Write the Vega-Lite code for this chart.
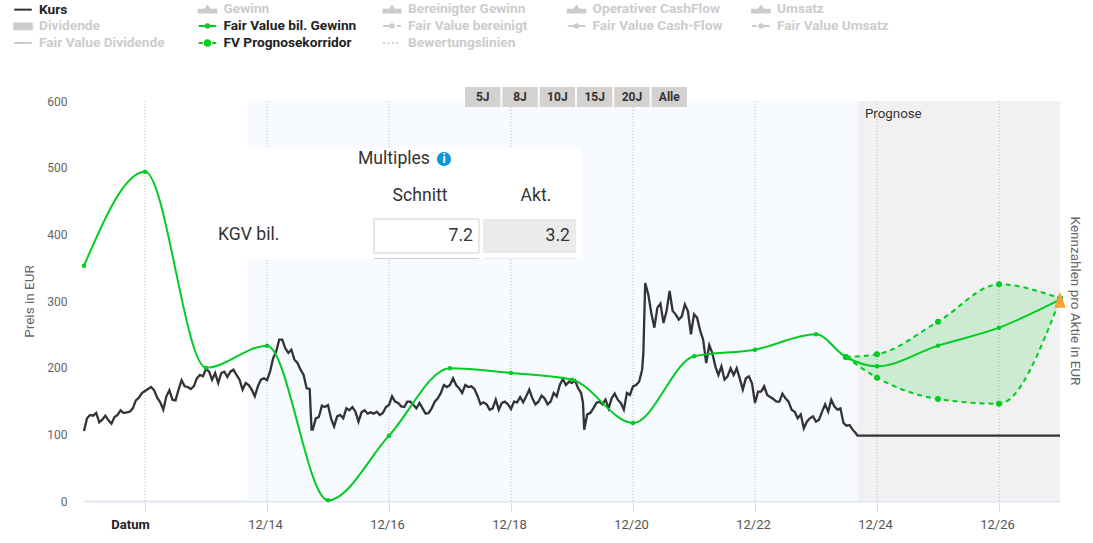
{"$schema":"https://vega.github.io/schema/vega-lite/v6.json","width":976,"height":400,"autosize":{"type":"none"},"padding":{"left":84,"top":101,"right":33,"bottom":42},"background":"white","config":{"view":{"stroke":null},"font":"Roboto","text":{"font":"Roboto"}},"datasets":{"kurs":[{"t":2011,"v":105},{"t":2011.05,"v":124},{"t":2011.1,"v":129},{"t":2011.15,"v":128},{"t":2011.2,"v":132},{"t":2011.25,"v":118},{"t":2011.3,"v":122},{"t":2011.35,"v":128},{"t":2011.4,"v":121},{"t":2011.45,"v":116},{"t":2011.5,"v":126},{"t":2011.55,"v":129},{"t":2011.6,"v":136},{"t":2011.65,"v":132},{"t":2011.7,"v":133},{"t":2011.75,"v":134},{"t":2011.8,"v":139},{"t":2011.85,"v":151},{"t":2011.9,"v":155},{"t":2011.95,"v":162},{"t":2012,"v":165},{"t":2012.05,"v":168},{"t":2012.1,"v":171},{"t":2012.15,"v":166},{"t":2012.2,"v":155},{"t":2012.25,"v":148},{"t":2012.3,"v":137},{"t":2012.35,"v":157},{"t":2012.4,"v":166},{"t":2012.45,"v":152},{"t":2012.5,"v":151},{"t":2012.55,"v":167},{"t":2012.6,"v":181},{"t":2012.65,"v":172},{"t":2012.7,"v":171},{"t":2012.75,"v":168},{"t":2012.8,"v":172},{"t":2012.85,"v":184},{"t":2012.9,"v":189},{"t":2012.95,"v":187},{"t":2013,"v":198},{"t":2013.05,"v":194},{"t":2013.1,"v":182},{"t":2013.15,"v":192},{"t":2013.2,"v":177},{"t":2013.25,"v":192},{"t":2013.3,"v":194},{"t":2013.35,"v":186},{"t":2013.4,"v":194},{"t":2013.45,"v":197},{"t":2013.5,"v":189},{"t":2013.55,"v":182},{"t":2013.6,"v":167},{"t":2013.65,"v":177},{"t":2013.7,"v":174},{"t":2013.75,"v":167},{"t":2013.8,"v":157},{"t":2013.85,"v":172},{"t":2013.9,"v":182},{"t":2013.95,"v":184},{"t":2014,"v":181},{"t":2014.05,"v":194},{"t":2014.1,"v":214},{"t":2014.15,"v":224},{"t":2014.2,"v":242},{"t":2014.25,"v":242},{"t":2014.3,"v":229},{"t":2014.35,"v":222},{"t":2014.4,"v":227},{"t":2014.45,"v":212},{"t":2014.5,"v":207},{"t":2014.55,"v":197},{"t":2014.6,"v":189},{"t":2014.65,"v":169},{"t":2014.7,"v":168},{"t":2014.73,"v":107},{"t":2014.75,"v":107},{"t":2014.8,"v":124},{"t":2014.85,"v":126},{"t":2014.9,"v":143},{"t":2014.95,"v":141},{"t":2015,"v":144},{"t":2015.05,"v":124},{"t":2015.1,"v":112},{"t":2015.15,"v":127},{"t":2015.2,"v":129},{"t":2015.25,"v":124},{"t":2015.3,"v":139},{"t":2015.35,"v":136},{"t":2015.4,"v":141},{"t":2015.45,"v":134},{"t":2015.5,"v":119},{"t":2015.55,"v":133},{"t":2015.6,"v":136},{"t":2015.65,"v":131},{"t":2015.7,"v":133},{"t":2015.75,"v":131},{"t":2015.8,"v":134},{"t":2015.85,"v":129},{"t":2015.9,"v":132},{"t":2015.95,"v":141},{"t":2016,"v":144},{"t":2016.05,"v":157},{"t":2016.1,"v":149},{"t":2016.15,"v":147},{"t":2016.2,"v":142},{"t":2016.25,"v":141},{"t":2016.3,"v":149},{"t":2016.35,"v":149},{"t":2016.4,"v":144},{"t":2016.45,"v":139},{"t":2016.5,"v":147},{"t":2016.55,"v":139},{"t":2016.6,"v":131},{"t":2016.65,"v":132},{"t":2016.7,"v":139},{"t":2016.75,"v":149},{"t":2016.8,"v":154},{"t":2016.85,"v":162},{"t":2016.9,"v":174},{"t":2016.95,"v":171},{"t":2017,"v":174},{"t":2017.05,"v":184},{"t":2017.1,"v":174},{"t":2017.15,"v":169},{"t":2017.2,"v":162},{"t":2017.25,"v":174},{"t":2017.3,"v":171},{"t":2017.35,"v":172},{"t":2017.4,"v":168},{"t":2017.45,"v":158},{"t":2017.5,"v":145},{"t":2017.55,"v":148},{"t":2017.6,"v":145},{"t":2017.65,"v":137},{"t":2017.7,"v":139},{"t":2017.75,"v":152},{"t":2017.8,"v":137},{"t":2017.85,"v":147},{"t":2017.9,"v":149},{"t":2017.95,"v":145},{"t":2018,"v":138},{"t":2018.05,"v":149},{"t":2018.1,"v":148},{"t":2018.15,"v":156},{"t":2018.2,"v":148},{"t":2018.25,"v":157},{"t":2018.3,"v":167},{"t":2018.35,"v":154},{"t":2018.4,"v":145},{"t":2018.45,"v":149},{"t":2018.5,"v":158},{"t":2018.55,"v":154},{"t":2018.6,"v":145},{"t":2018.65,"v":149},{"t":2018.7,"v":162},{"t":2018.75,"v":157},{"t":2018.8,"v":174},{"t":2018.85,"v":183},{"t":2018.9,"v":174},{"t":2018.95,"v":179},{"t":2019,"v":177},{"t":2019.05,"v":181},{"t":2019.1,"v":169},{"t":2019.15,"v":162},{"t":2019.18,"v":147},{"t":2019.2,"v":107},{"t":2019.25,"v":130},{"t":2019.3,"v":132},{"t":2019.35,"v":139},{"t":2019.4,"v":147},{"t":2019.45,"v":149},{"t":2019.5,"v":145},{"t":2019.55,"v":152},{"t":2019.6,"v":139},{"t":2019.65,"v":154},{"t":2019.7,"v":161},{"t":2019.75,"v":152},{"t":2019.8,"v":147},{"t":2019.85,"v":137},{"t":2019.9,"v":162},{"t":2019.95,"v":159},{"t":2020,"v":172},{"t":2020.05,"v":174},{"t":2020.1,"v":179},{"t":2020.15,"v":197},{"t":2020.17,"v":222},{"t":2020.2,"v":327},{"t":2020.25,"v":310},{"t":2020.3,"v":282},{"t":2020.35,"v":260},{"t":2020.4,"v":290},{"t":2020.45,"v":296},{"t":2020.5,"v":267},{"t":2020.55,"v":285},{"t":2020.6,"v":315},{"t":2020.65,"v":285},{"t":2020.7,"v":280},{"t":2020.75,"v":272},{"t":2020.8,"v":277},{"t":2020.85,"v":295},{"t":2020.9,"v":285},{"t":2020.95,"v":250},{"t":2021,"v":280},{"t":2021.05,"v":275},{"t":2021.1,"v":256},{"t":2021.15,"v":242},{"t":2021.2,"v":207},{"t":2021.25,"v":234},{"t":2021.3,"v":222},{"t":2021.35,"v":202},{"t":2021.4,"v":189},{"t":2021.45,"v":202},{"t":2021.5,"v":182},{"t":2021.55,"v":187},{"t":2021.6,"v":199},{"t":2021.65,"v":189},{"t":2021.7,"v":199},{"t":2021.75,"v":184},{"t":2021.8,"v":167},{"t":2021.85,"v":184},{"t":2021.9,"v":187},{"t":2021.95,"v":177},{"t":2022,"v":147},{"t":2022.05,"v":164},{"t":2022.1,"v":164},{"t":2022.15,"v":172},{"t":2022.2,"v":159},{"t":2022.25,"v":156},{"t":2022.3,"v":153},{"t":2022.35,"v":149},{"t":2022.4,"v":149},{"t":2022.45,"v":161},{"t":2022.5,"v":154},{"t":2022.55,"v":149},{"t":2022.6,"v":137},{"t":2022.65,"v":134},{"t":2022.7,"v":124},{"t":2022.75,"v":130},{"t":2022.8,"v":109},{"t":2022.85,"v":119},{"t":2022.9,"v":124},{"t":2022.95,"v":127},{"t":2023,"v":119},{"t":2023.05,"v":122},{"t":2023.1,"v":134},{"t":2023.15,"v":145},{"t":2023.2,"v":134},{"t":2023.25,"v":152},{"t":2023.3,"v":142},{"t":2023.35,"v":137},{"t":2023.4,"v":139},{"t":2023.45,"v":117},{"t":2023.5,"v":113},{"t":2023.55,"v":114},{"t":2023.6,"v":107},{"t":2023.65,"v":102},{"t":2023.68,"v":98},{"t":2027,"v":98}],"fv":[{"t":2011,"v":353},{"t":2012,"v":494},{"t":2013,"v":200},{"t":2014,"v":233},{"t":2015,"v":1},{"t":2016,"v":98},{"t":2017,"v":199},{"t":2018,"v":192},{"t":2019,"v":182},{"t":2020,"v":117},{"t":2021,"v":217},{"t":2022,"v":227},{"t":2023,"v":250},{"t":2023.49,"v":216},{"t":2024,"v":202},{"t":2025,"v":233},{"t":2026,"v":260},{"t":2027,"v":302}],"corridor":[{"t":2023.49,"low":216,"high":216},{"t":2024,"low":185,"high":220},{"t":2025,"low":153,"high":269},{"t":2026,"low":146,"high":325},{"t":2027,"low":302,"high":304}]},"data":{"name":"kurs"},"resolve":{"scale":{"x":"independent"}},"layer":[{"encoding":{"x":{"type":"quantitative","scale":{"domain":[2011,2027],"nice":false,"zero":false},"axis":{"title":null,"values":[2012,2014,2016,2018,2020,2022,2024,2026],"labelExpr":"datum.value==2012?'Datum':'12/'+format(datum.value%100,'02d')","labelFontWeight":{"condition":{"test":"datum.value==2012","value":"bold"},"value":"normal"},"labelColor":{"condition":{"test":"datum.value==2012","value":"#222222"},"value":"#555555"},"labelOffset":{"condition":{"test":"datum.value==2012","value":-15},"value":-2},"labelFontSize":13,"labelPadding":7,"labelFlush":false,"grid":false,"tickColor":"#ccd6eb","tickSize":10,"domainColor":"#dfe7f3","domainWidth":2,"zindex":0}},"y":{"type":"quantitative","scale":{"domain":[0,600],"nice":false,"zero":false},"axis":{"title":"Preis in EUR","titleFontSize":13.5,"titleFontWeight":"normal","titleColor":"#666666","titlePadding":10,"values":[0,100,200,300,400,500,600],"labelColor":"#666666","labelFontSize":12,"labelPadding":17,"domain":false,"ticks":false,"grid":false}}},"layer":[{"data":{"values":[{"from":2013.68,"to":2023.68,"zone":"hist"}]},"mark":{"type":"rect","color":"#f7faff"},"encoding":{"x":{"field":"from","type":"quantitative"},"x2":{"field":"to"},"y":{"datum":0,"type":"quantitative"},"y2":{"datum":600}}},{"data":{"values":[{"from":2023.68,"to":2027,"zone":"prog"}]},"mark":{"type":"rect","color":"#f1f1f1"},"encoding":{"x":{"field":"from","type":"quantitative"},"x2":{"field":"to"},"y":{"datum":0,"type":"quantitative"},"y2":{"datum":600}}},{"data":{"values":[{"t":2012},{"t":2014},{"t":2016},{"t":2018},{"t":2020},{"t":2022},{"t":2024},{"t":2026}]},"mark":{"type":"rule","color":"#b8b8b8","strokeDash":[1,2],"strokeWidth":1},"encoding":{"x":{"field":"t","type":"quantitative"},"y":{"datum":0,"type":"quantitative"},"y2":{"datum":600}}},{"data":{"name":"corridor"},"mark":{"type":"area","interpolate":"monotone","color":"#00cc22","opacity":0.15},"encoding":{"x":{"field":"t","type":"quantitative"},"y":{"field":"low","type":"quantitative"},"y2":{"field":"high"}}},{"mark":{"type":"line","strokeWidth":2.3},"encoding":{"x":{"field":"t","type":"quantitative"},"y":{"field":"v","type":"quantitative"},"color":{"datum":"Kurs","scale":{"domain":["Kurs","Dividende","Fair Value Dividende","Gewinn","Fair Value bil. Gewinn","FV Prognosekorridor","Bereinigter Gewinn","Fair Value bereinigt","Bewertungslinien","Operativer CashFlow","Fair Value Cash-Flow"," ","Umsatz","Fair Value Umsatz"],"range":["#333333","#cccccc","#cccccc","#cccccc","#00cc22","#00cc22","#cccccc","#cccccc","#cccccc","#cccccc","#cccccc","#ffffff","#cccccc","#cccccc"]},"legend":{"title":null,"orient":"none","legendX":-70,"legendY":-101,"direction":"vertical","columns":5,"gridAlign":"all","padding":0,"columnPadding":22.5,"rowPadding":0,"symbolSize":256,"labelOffset":7,"labelFontSize":13.7,"labelFontWeight":"bold","labelLimit":220,"encode":{"labels":{"update":{"fill":{"signal":"indexof(['Kurs','Fair Value bil. Gewinn','FV Prognosekorridor'],datum.value)>=0?'#222222':'#cccccc'"}}},"symbols":{"update":{"shape":{"signal":"{'Kurs':'M-1.1,0H1.1','Dividende':'M-1.1,-.3H1.1V.4H-1.1Z','Fair Value Dividende':'M-1.1,0H1.1','Gewinn':'M-1.1,.4V.05H-.35L0,-.4L.35,.05H1.1V.4Z','Fair Value bil. Gewinn':'M-1.1,0H1.1M.22,0A.22,.22 0 1 1 -.22,0A.22,.22 0 1 1 .22,0Z','FV Prognosekorridor':'M-1.1,0H-.6M.6,0H1.1M.33,0A.33,.33 0 1 1 -.33,0A.33,.33 0 1 1 .33,0Z','Bereinigter Gewinn':'M-1.1,.4V.05H-.35L0,-.4L.35,.05H1.1V.4Z','Fair Value bereinigt':'M-1.1,0H.1M.6,0H1.1M.22,0A.22,.22 0 1 1 -.22,0A.22,.22 0 1 1 .22,0Z','Bewertungslinien':'M-1.1,0H-.9M-.55,0H-.35M0,0H.2M.55,0H.75','Operativer CashFlow':'M-1.1,.4V.05H-.35L0,-.4L.35,.05H1.1V.4Z','Fair Value Cash-Flow':'M-1.1,0H1.1M.22,0A.22,.22 0 1 1 -.22,0A.22,.22 0 1 1 .22,0Z',' ':'M0,0','Umsatz':'M-1.1,.4V.05H-.35L0,-.4L.35,.05H1.1V.4Z','Fair Value Umsatz':'M-1.1,0H-.55M0,0H1.1M.22,0A.22,.22 0 1 1 -.22,0A.22,.22 0 1 1 .22,0Z'}[datum.value]"},"fill":{"signal":"datum.value=='Kurs'?'#333333':indexof(['Fair Value bil. Gewinn','FV Prognosekorridor'],datum.value)>=0?'#00cc22':datum.value==' '?'transparent':'#cccccc'"},"stroke":{"signal":"datum.value=='Kurs'?'#333333':indexof(['Fair Value bil. Gewinn','FV Prognosekorridor'],datum.value)>=0?'#00cc22':datum.value==' '?'transparent':'#cccccc'"},"strokeWidth":{"value":2},"opacity":{"value":1}}}}}}}},{"data":{"name":"fv"},"mark":{"type":"line","interpolate":"monotone","strokeWidth":2},"encoding":{"x":{"field":"t","type":"quantitative"},"y":{"field":"v","type":"quantitative"},"color":{"datum":"Fair Value bil. Gewinn"}}},{"data":{"name":"corridor"},"mark":{"type":"line","interpolate":"monotone","strokeWidth":2,"strokeDash":[5,4]},"encoding":{"x":{"field":"t","type":"quantitative"},"y":{"field":"high","type":"quantitative"},"color":{"datum":"FV Prognosekorridor"}}},{"data":{"name":"corridor"},"mark":{"type":"line","interpolate":"monotone","strokeWidth":2,"strokeDash":[5,4]},"encoding":{"x":{"field":"t","type":"quantitative"},"y":{"field":"low","type":"quantitative"},"color":{"datum":"FV Prognosekorridor"}}},{"data":{"name":"fv"},"mark":{"type":"point","filled":true,"size":20,"color":"#00cc22","opacity":1},"encoding":{"x":{"field":"t","type":"quantitative"},"y":{"field":"v","type":"quantitative"}}},{"data":{"name":"corridor"},"mark":{"type":"point","filled":true,"size":36,"color":"#00cc22","opacity":1},"encoding":{"x":{"field":"t","type":"quantitative"},"y":{"field":"high","type":"quantitative"}}},{"data":{"name":"corridor"},"mark":{"type":"point","filled":true,"size":36,"color":"#00cc22","opacity":1},"encoding":{"x":{"field":"t","type":"quantitative"},"y":{"field":"low","type":"quantitative"}}},{"data":{"values":[{"t":2027,"v":302}]},"mark":{"type":"point","shape":"M0,-1L.7,1H-.7Z","filled":true,"size":256,"color":"#f7a035","opacity":1,"clip":false},"encoding":{"x":{"field":"t","type":"quantitative"},"y":{"field":"v","type":"quantitative"}}},{"data":{"values":[{"zone":"table"}]},"mark":{"type":"rect","color":"white"},"encoding":{"x":{"datum":2013.672,"type":"quantitative"},"x2":{"datum":2019.148},"y":{"datum":363,"type":"quantitative"},"y2":{"datum":529.5}}},{"data":{"values":[{"zone":"schnitt"}]},"mark":{"type":"rect","fill":"white","stroke":"#d0d0d0","strokeWidth":1},"encoding":{"x":{"datum":2015.754,"type":"quantitative"},"x2":{"datum":2017.475},"y":{"datum":372,"type":"quantitative"},"y2":{"datum":423}}},{"data":{"values":[{"zone":"akt"}]},"mark":{"type":"rect","color":"#ebebeb"},"encoding":{"x":{"datum":2017.541,"type":"quantitative"},"x2":{"datum":2019.066},"y":{"datum":372,"type":"quantitative"},"y2":{"datum":423}}},{"data":{"values":[{"zone":"next"}]},"mark":{"type":"rect","color":"#d0d0d0"},"encoding":{"x":{"datum":2015.754,"type":"quantitative"},"x2":{"datum":2017.475},"y":{"datum":363,"type":"quantitative"},"y2":{"datum":364.5}}},{"data":{"values":[{"zone":"next2"}]},"mark":{"type":"rect","color":"#e8e8e8"},"encoding":{"x":{"datum":2017.541,"type":"quantitative"},"x2":{"datum":2019.066},"y":{"datum":363,"type":"quantitative"},"y2":{"datum":364.5}}},{"data":{"values":[{"label":"Multiples"}]},"mark":{"type":"text","align":"left","baseline":"middle","fontSize":17.6,"color":"#333333"},"encoding":{"x":{"datum":2015.492,"type":"quantitative"},"y":{"datum":513,"type":"quantitative"},"text":{"field":"label"}}},{"data":{"values":[{"label":"info"}]},"mark":{"type":"point","shape":"circle","filled":true,"size":200,"color":"#0e96dc","opacity":1},"encoding":{"x":{"datum":2016.902,"type":"quantitative"},"y":{"datum":513,"type":"quantitative"}}},{"data":{"values":[{"label":"i"}]},"mark":{"type":"text","align":"center","baseline":"middle","fontSize":12,"fontWeight":"bold","color":"white"},"encoding":{"x":{"datum":2016.902,"type":"quantitative"},"y":{"datum":513,"type":"quantitative"},"text":{"field":"label"}}},{"data":{"values":[{"label":"Schnitt"}]},"mark":{"type":"text","align":"center","baseline":"middle","fontSize":17.6,"color":"#333333"},"encoding":{"x":{"datum":2016.508,"type":"quantitative"},"y":{"datum":457.5,"type":"quantitative"},"text":{"field":"label"}}},{"data":{"values":[{"label":"Akt."}]},"mark":{"type":"text","align":"center","baseline":"middle","fontSize":17.6,"color":"#333333"},"encoding":{"x":{"datum":2018.41,"type":"quantitative"},"y":{"datum":457.5,"type":"quantitative"},"text":{"field":"label"}}},{"data":{"values":[{"label":"KGV bil."}]},"mark":{"type":"text","align":"left","baseline":"middle","fontSize":17.6,"color":"#333333"},"encoding":{"x":{"datum":2013.197,"type":"quantitative"},"y":{"datum":399,"type":"quantitative"},"text":{"field":"label"}}},{"data":{"values":[{"label":"7.2"}]},"mark":{"type":"text","align":"right","baseline":"middle","fontSize":17.6,"color":"#333333"},"encoding":{"x":{"datum":2017.377,"type":"quantitative"},"y":{"datum":397.5,"type":"quantitative"},"text":{"field":"label"}}},{"data":{"values":[{"label":"3.2"}]},"mark":{"type":"text","align":"right","baseline":"middle","fontSize":17.6,"color":"#333333"},"encoding":{"x":{"datum":2018.967,"type":"quantitative"},"y":{"datum":397.5,"type":"quantitative"},"text":{"field":"label"}}},{"data":{"values":[{"label":"Prognose"}]},"mark":{"type":"text","align":"left","baseline":"middle","fontSize":13.3,"color":"#333333"},"encoding":{"x":{"datum":2023.803,"type":"quantitative"},"y":{"datum":580.5,"type":"quantitative"},"text":{"field":"label"}}},{"data":{"values":[{"label":"Kennzahlen pro Aktie in EUR"}]},"mark":{"type":"text","align":"center","baseline":"middle","fontSize":13.5,"angle":90,"color":"#666666"},"encoding":{"x":{"datum":2027.246,"type":"quantitative"},"y":{"datum":300,"type":"quantitative"},"text":{"field":"label"}}}]},{"data":{"values":[{"btn":"5J"},{"btn":"8J"},{"btn":"10J"},{"btn":"15J"},{"btn":"20J"},{"btn":"Alle"}]},"encoding":{"x":{"field":"btn","type":"nominal","sort":null,"scale":{"domain":["5J","8J","10J","15J","20J","Alle"],"range":[381,603],"paddingInner":0.05,"paddingOuter":0},"axis":null},"y":{"datum":621,"type":"quantitative"}},"layer":[{"mark":{"type":"rect","color":"#d4d2d0"},"encoding":{"y2":{"datum":591}}},{"mark":{"type":"text","fontSize":12,"fontWeight":"bold","color":"#333333","baseline":"middle"},"encoding":{"y":{"datum":606,"type":"quantitative"},"text":{"field":"btn"}}}]}]}
